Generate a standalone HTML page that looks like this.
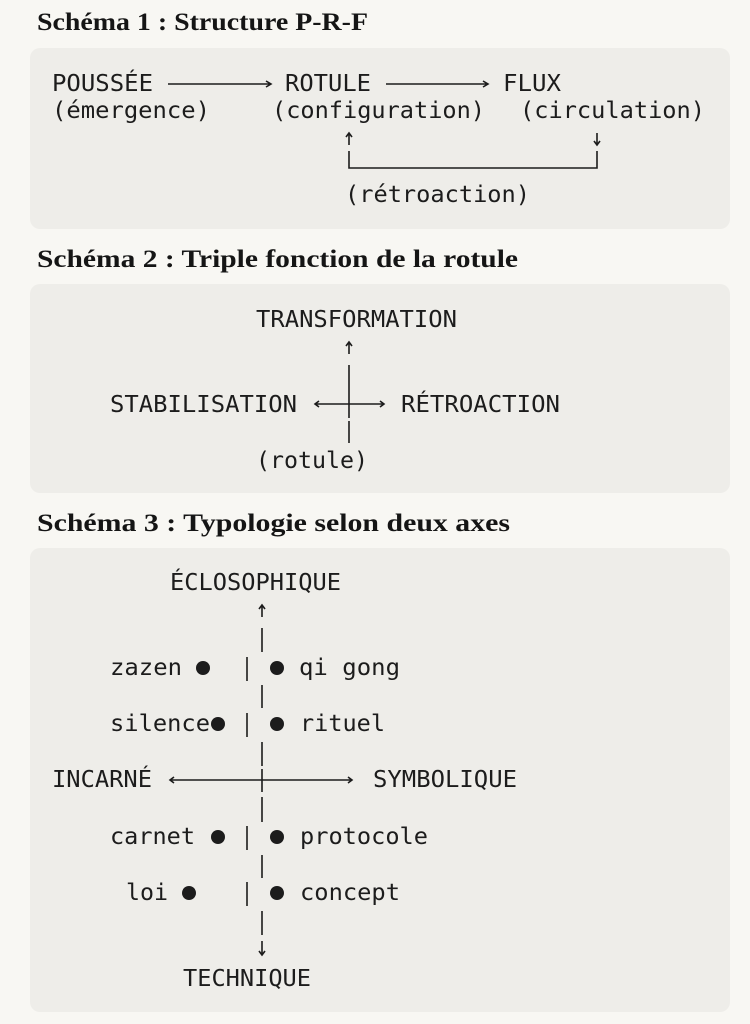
<!DOCTYPE html>
<html><head><meta charset="utf-8"><style>
html,body{margin:0;padding:0;background:#f8f7f3;}
svg{display:block}
.t{font-family:"DejaVu Sans Mono","Liberation Mono",monospace;font-size:23px;fill:#1c1c1c}
.h{font-family:"Liberation Serif",serif;font-weight:bold;font-size:25px;fill:#151515}
.l{stroke:#1c1c1c;stroke-width:1.6;fill:none}
</style></head><body>
<svg width="750" height="1024" viewBox="0 0 750 1024" xmlns="http://www.w3.org/2000/svg">
<rect x="0" y="0" width="750" height="1024" fill="#f8f7f3"/>
<rect x="30" y="48" width="700" height="181" rx="10" fill="#eeede9"/>
<rect x="30" y="284" width="700" height="209" rx="10" fill="#eeede9"/>
<rect x="30" y="548" width="700" height="464" rx="10" fill="#eeede9"/>

<text class="h" x="37" y="30" textLength="331" lengthAdjust="spacingAndGlyphs">Schéma 1 : Structure P-R-F</text>
<text class="h" x="37" y="267" textLength="481" lengthAdjust="spacingAndGlyphs">Schéma 2 : Triple fonction de la rotule</text>
<text class="h" x="37" y="531" textLength="473" lengthAdjust="spacingAndGlyphs">Schéma 3 : Typologie selon deux axes</text>

<g lengthAdjust="spacingAndGlyphs">
<!-- Schema 1 -->
<text class="t" x="52" y="91" textLength="101" lengthAdjust="spacingAndGlyphs">POUSSÉE</text>
<path class="l" d="M168 84H271M266 81L271 84L266 87"/>
<text class="t" x="285" y="91" textLength="86" lengthAdjust="spacingAndGlyphs">ROTULE</text>
<path class="l" d="M386 84H488M483 81L488 84L483 87"/>
<text class="t" x="503" y="91" textLength="58" lengthAdjust="spacingAndGlyphs">FLUX</text>
<text class="t" x="52" y="118" textLength="158" lengthAdjust="spacingAndGlyphs">(émergence)</text>
<text class="t" x="272" y="118" textLength="213" lengthAdjust="spacingAndGlyphs">(configuration)</text>
<text class="t" x="520" y="118" textLength="185" lengthAdjust="spacingAndGlyphs">(circulation)</text>
<path class="l" d="M349 133V145M346 137L349 133L352 137"/>
<path class="l" d="M597 133V145M594 141L597 145L600 141"/>
<path class="l" d="M349 151V168H597V151"/>
<text class="t" x="345" y="202" textLength="185" lengthAdjust="spacingAndGlyphs">(rétroaction)</text>

<!-- Schema 2 -->
<text class="t" x="256" y="327" textLength="201" lengthAdjust="spacingAndGlyphs">TRANSFORMATION</text>
<path class="l" d="M349 342V354M346 346L349 342L352 346"/>
<path class="l" d="M349 365V418M349 421V443"/>
<path class="l" d="M315 404H384M319 401L315 404L319 407M380 401L384 404L380 407"/>
<text class="t" x="110" y="412" textLength="187" lengthAdjust="spacingAndGlyphs">STABILISATION</text>
<text class="t" x="401" y="412" textLength="159" lengthAdjust="spacingAndGlyphs">RÉTROACTION</text>
<text class="t" x="256" y="468" textLength="112" lengthAdjust="spacingAndGlyphs">(rotule)</text>

<!-- Schema 3 -->
<text class="t" x="170" y="590" textLength="171" lengthAdjust="spacingAndGlyphs">ÉCLOSOPHIQUE</text>
<path class="l" d="M262 605V617M259 609L262 605L265 609"/>
<path class="l" d="M262 628V652M262 685V708M262 742V766M262 769V792M262 797V822M262 855V878M262 911V935"/>
<path class="l" d="M262 941V955M259 951L262 955L265 951"/>
<text class="t" x="183" y="986" textLength="128" lengthAdjust="spacingAndGlyphs">TECHNIQUE</text>

<text class="t" x="110" y="675" textLength="72" lengthAdjust="spacingAndGlyphs">zazen</text>
<circle cx="203" cy="668" r="7" fill="#1c1c1c"/>
<path class="l" d="M247 657V681"/>
<circle cx="277" cy="668" r="7" fill="#1c1c1c"/>
<text class="t" x="299" y="675" textLength="101" lengthAdjust="spacingAndGlyphs">qi gong</text>

<text class="t" x="110" y="731" textLength="100" lengthAdjust="spacingAndGlyphs">silence</text>
<circle cx="218" cy="724" r="7" fill="#1c1c1c"/>
<path class="l" d="M247 713V737"/>
<circle cx="277" cy="724" r="7" fill="#1c1c1c"/>
<text class="t" x="300" y="731" textLength="85" lengthAdjust="spacingAndGlyphs">rituel</text>

<text class="t" x="52" y="787" textLength="100" lengthAdjust="spacingAndGlyphs">INCARNÉ</text>
<path class="l" d="M170 780H352M174 777L170 780L174 783M348 777L352 780L348 783"/>
<text class="t" x="373" y="787" textLength="144" lengthAdjust="spacingAndGlyphs">SYMBOLIQUE</text>

<text class="t" x="110" y="844" textLength="85" lengthAdjust="spacingAndGlyphs">carnet</text>
<circle cx="218" cy="837" r="7" fill="#1c1c1c"/>
<path class="l" d="M247 826V850"/>
<circle cx="277" cy="837" r="7" fill="#1c1c1c"/>
<text class="t" x="300" y="844" textLength="128" lengthAdjust="spacingAndGlyphs">protocole</text>

<text class="t" x="126" y="900" textLength="42" lengthAdjust="spacingAndGlyphs">loi</text>
<circle cx="189" cy="893" r="7" fill="#1c1c1c"/>
<path class="l" d="M247 882V906"/>
<circle cx="277" cy="893" r="7" fill="#1c1c1c"/>
<text class="t" x="300" y="900" textLength="100" lengthAdjust="spacingAndGlyphs">concept</text>
</g>
</svg>
</body></html>
